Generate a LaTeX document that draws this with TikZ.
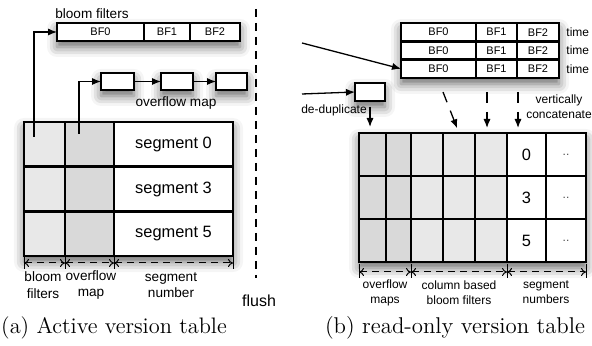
\documentclass[tikz,border=0pt]{standalone}
\usepackage{fontspec}
\setsansfont{Liberation Sans}
\usepackage{tikz}
\usetikzlibrary{positioning, fit, backgrounds, shadows.blur, arrows.meta}

\begin{document}
\begin{tikzpicture}[
    x=0.5pt, y=-0.5pt,
    cell/.style={rectangle, draw=black, line width=1.3pt, inner sep=0pt, outer sep=0pt, font=\sffamily\fontsize{8.2}{9}\selectfont},
    bfcell/.style={cell, fill=white, minimum height=9pt, font=\sffamily\fontsize{5.5}{6}\selectfont},
    lbl/.style={font=\sffamily\fontsize{6.8}{8.2}\selectfont, align=center, inner sep=0pt},
    smlbl/.style={font=\sffamily\fontsize{6}{7.4}\selectfont, align=center, inner sep=0pt},
    arrow/.style={-{Latex[length=4.5pt, width=3.6pt]}, line width=0.65pt},
    dimline/.style={{To[length=2.5pt, width=4pt]}-{To[length=2.5pt, width=4pt]}, dash pattern=on 3.5pt off 2.5pt, line width=0.5pt},
    shadowbox/.style={fill=white, draw=none, inner sep=0pt, blur shadow={shadow xshift=0pt, shadow yshift=-3pt, shadow blur radius=5pt, shadow opacity=60}}
]
\useasboundingbox (0,0) rectangle (592,346);

% (a) active version table
\node[lbl] (bflabel) at (92,14) {bloom filters};
\node[bfcell, minimum width=43.5pt] (bf0) at (100.5,32) {BF0};
\node[bfcell, minimum width=23pt] (bf1) at (167,32) {BF1};
\node[bfcell, minimum width=25pt] (bf2) at (215,32) {BF2};

\node[cell, fill=white, minimum width=16.5pt, minimum height=8.5pt] (ovm1) at (117.5,81.5) {};
\node[cell, fill=white, minimum width=16pt, minimum height=8.5pt] (ovm2) at (177,81.5) {};
\node[cell, fill=white, minimum width=15.5pt, minimum height=8.5pt] (ovm3) at (231.5,81.5) {};
\node[lbl] (ovmlabel) at (176,103) {overflow map};

\foreach \yy/\s in {144.3/0, 189/3, 233.7/5} {
    \node[cell, fill=black!9, minimum width=20.5pt, minimum height=22.3pt] (bfc\s) at (44.5,\yy) {};
    \node[cell, fill=black!15, minimum width=24.5pt, minimum height=22.3pt] (ofc\s) at (89.5,\yy) {};
    \node[cell, fill=white, minimum width=59.5pt, minimum height=22.3pt] (seg\s) at (173.5,\yy) {segment \s};
}

\begin{scope}[on background layer]
    \node[shadowbox, fit=(bf0)(bf2)] {};
    \node[shadowbox, fit=(ovm1)] {};
    \node[shadowbox, fit=(ovm2)] {};
    \node[shadowbox, fit=(ovm3)] {};
    \node[shadowbox, fit=(bfc0)(seg5)] {};
\end{scope}

\coordinate (bfsrc) at (34,137);
\coordinate (ofsrc) at (79,134);
\draw[arrow] (bfsrc) |- (bf0.west);
\draw[arrow] (ofsrc) |- (ovm1.west);
\draw[arrow] (ovm1) -- (ovm2);
\draw[arrow] (ovm2) -- (ovm3);

\foreach \xx in {24, 65, 114, 233}
    \draw[line width=0.5pt] (\xx,257) -- (\xx,269);
\draw[dimline] (24,263) -- (65,263);
\draw[dimline] (65,263) -- (114,263);
\draw[dimline] (114,263) -- (233,263);
\node[lbl] (dimbf) at (43,285) {bloom\\filters};
\node[lbl] (dimof) at (91,285) {overflow\\map};
\node[lbl] (dimseg) at (171,285) {segment\\number};

\draw[line width=0.7pt, dash pattern=on 4pt off 3pt] (256,9) -- (256,278);
\node[font=\sffamily\fontsize{8}{9}\selectfont, inner sep=0pt] (flush) at (259,301) {flush};

% (b) read-only version table
\foreach \yy/\t in {32.2/0, 50.5/1, 68.8/2} {
    \node[bfcell, minimum width=37.5pt, minimum height=9.15pt] (rbf\t-0) at (438.5,\yy) {BF0};
    \node[bfcell, minimum width=20.5pt, minimum height=9.15pt] (rbf\t-1) at (496.5,\yy) {BF1};
    \node[bfcell, minimum width=21pt, minimum height=9.15pt] (rbf\t-2) at (538,\yy) {BF2};
    \node[smlbl, anchor=west] (time\t) at (566,\yy) {time};
}
\node[cell, fill=white, minimum width=15pt, minimum height=9pt] (dedup) at (370,92) {};
\node[smlbl] (deduplabel) at (334,110) {de-duplicate};
\node[smlbl] (vclabel) at (559,107) {vertically\\concatenate};

\foreach \yy/\s [count=\r] in {154.5/0, 197.5/3, 240.5/5} {
    \node[cell, fill=black!15, minimum width=13.5pt, minimum height=21.5pt] (ofm\r-a) at (372.5,\yy) {};
    \node[cell, fill=black!15, minimum width=12.5pt, minimum height=21.5pt] (ofm\r-b) at (398.5,\yy) {};
    \node[cell, fill=black!9, minimum width=16pt, minimum height=21.5pt] (cbf\r-a) at (427,\yy) {};
    \node[cell, fill=black!9, minimum width=16pt, minimum height=21.5pt] (cbf\r-b) at (459,\yy) {};
    \node[cell, fill=black!9, minimum width=16pt, minimum height=21.5pt] (cbf\r-c) at (491,\yy) {};
    \node[cell, fill=white, minimum width=19.5pt, minimum height=21.5pt] (sn\r) at (526.5,\yy) {\s};
    \node[cell, fill=white, minimum width=20pt, minimum height=21.5pt, font=\sffamily\fontsize{6}{7}\selectfont, text=black!70] (more\r) at (566,\yy) {..};
}

\begin{scope}[on background layer]
    \node[shadowbox, fit=(rbf0-0)(rbf2-2)] {};
    \node[shadowbox, fit=(dedup)] {};
    \node[shadowbox, fit=(ofm1-a)(more3)] {};
\end{scope}

\coordinate (rbfin) at (302,43);
\coordinate (ddin) at (302,94);
\draw[arrow] (rbfin) -- (rbf2-0.west);
\draw[arrow] (ddin) -- (dedup.west);
\draw[arrow, shorten <=3pt, shorten >=3pt] (dedup.south) -- (dedup.south |- ofm1-a.north);

\coordinate (vc1) at (443,92);
\coordinate (vc2) at (487,92);
\coordinate (vc3) at (518,92);
\draw[arrow, dash pattern=on 5.5pt off 4.5pt, shorten >=2.5pt] (vc1) -- (cbf1-b.north);
\draw[arrow, dash pattern=on 5.5pt off 4.5pt, shorten >=2.5pt] (vc2) -- (vc2 |- cbf1-c.north);
\draw[arrow, dash pattern=on 5.5pt off 4.5pt, shorten >=2.5pt] (vc3) -- (vc3 |- sn1.north);

\foreach \xx in {359, 411, 507, 586}
    \draw[line width=0.5pt] (\xx,264) -- (\xx,278);
\draw[dimline] (359,272) -- (411,272);
\draw[dimline] (411,272) -- (507,272);
\draw[dimline] (507,272) -- (586,272);
\node[smlbl] (dimofm) at (385,292.5) {overflow\\maps};
\node[smlbl] (dimcbf) at (459,292.5) {column based\\bloom filters};
\node[smlbl] (dimsn) at (546,292.5) {segment\\numbers};

% captions
\node[font=\fontsize{11.2}{13}\selectfont, inner sep=0pt] (capa) at (114,328) {(a) Active version table};
\node[font=\fontsize{11.4}{13}\selectfont, inner sep=0pt] (capb) at (455,328) {(b) read-only version table};

\end{tikzpicture}
\end{document}
